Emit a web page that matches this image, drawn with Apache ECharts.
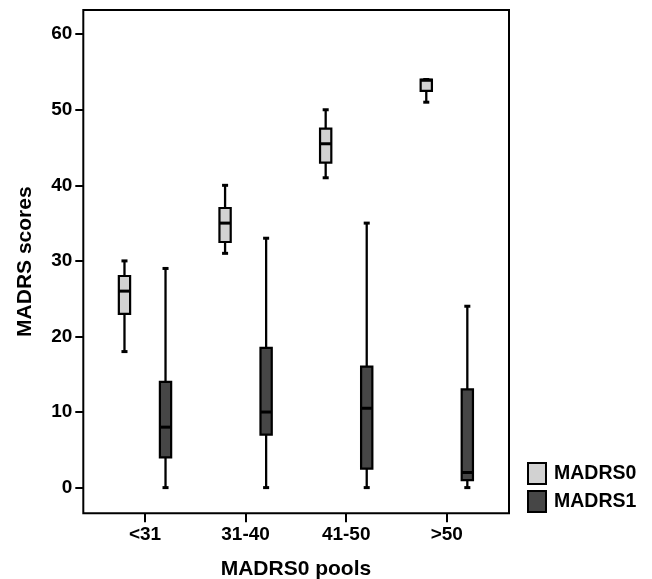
<!DOCTYPE html>
<html>
<head>
<meta charset="utf-8">
<script src="https://cdn.jsdelivr.net/npm/echarts@6/dist/echarts.min.js"></script>
<style>html,body{margin:0;padding:0;background:#fff;}#c{width:652px;height:579px;}</style>
</head>
<body>
<div id="c"></div>
<script>
// Data: [min, Q1, median, Q3, max]
const categories = ['<31', '31-40', '41-50', '>50'];
const madrs0 = [[18, 23, 26, 28, 30], [31, 32.5, 35, 37, 40], [41, 43, 45.5, 47.5, 50], [51, 52.5, 53.9, 54, 54]];
const madrs1 = [[0, 4, 8, 14, 29], [0, 7, 10, 18.5, 33], [0, 2.5, 10.5, 16, 35], [0, 1, 2, 13, 24]];
const yTicks = [0, 10, 20, 30, 40, 50, 60];
const seriesNames = ['MADRS0', 'MADRS1'];
const seriesColors = ['#d2d2d2', '#464646'];

const FONT = '"Liberation Sans", Arial, sans-serif';

function makeRender(sign) {
  return function (params, api) {
    const idx = api.value(0);
    const pMin = api.coord([idx, api.value(1)]);
    const pQ1 = api.coord([idx, api.value(2)]);
    const pMed = api.coord([idx, api.value(3)]);
    const pQ3 = api.coord([idx, api.value(4)]);
    const pMax = api.coord([idx, api.value(5)]);
    const band = api.size([1, 0])[0];
    const cx = pMin[0] + sign * band * 0.204;
    const bw = band * 0.112;
    const capW = band * 0.06;
    const color = api.visual('color');
    const lineStyle = { stroke: '#000', lineWidth: 2.3 };
    return {
      type: 'group',
      children: [
        { type: 'line', shape: { x1: cx, y1: pQ3[1], x2: cx, y2: pMax[1] }, style: lineStyle },
        { type: 'line', shape: { x1: cx, y1: pQ1[1], x2: cx, y2: pMin[1] }, style: lineStyle },
        { type: 'line', shape: { x1: cx - capW / 2, y1: pMax[1], x2: cx + capW / 2, y2: pMax[1] }, style: { stroke: '#000', lineWidth: 3 } },
        { type: 'line', shape: { x1: cx - capW / 2, y1: pMin[1], x2: cx + capW / 2, y2: pMin[1] }, style: { stroke: '#000', lineWidth: 3 } },
        { type: 'rect', shape: { x: cx - bw / 2, y: pQ3[1], width: bw, height: pQ1[1] - pQ3[1] }, style: { fill: color, stroke: '#000', lineWidth: 2.2 } },
        { type: 'line', shape: { x1: cx - bw / 2, y1: pMed[1], x2: cx + bw / 2, y2: pMed[1] }, style: { stroke: '#000', lineWidth: 3 } }
      ]
    };
  };
}

function toData(arr) {
  return arr.map((d, i) => [i].concat(d));
}

const chart = echarts.init(document.getElementById('c'), null, { renderer: 'canvas' });
chart.setOption({
  animation: false,
  backgroundColor: '#fff',
  textStyle: { fontFamily: FONT },
  grid: [
    { left: 94.7, top: 10, width: 402.4, height: 503.3, show: false, containLabel: false, outerBoundsMode: 'none' },
    { left: 83.3, top: 10, width: 425.7, height: 503.3, show: true, borderColor: '#000', borderWidth: 2, backgroundColor: 'transparent', containLabel: false, outerBoundsMode: 'none' }
  ],
  legend: {
    orient: 'vertical',
    left: 527,
    top: 462,
    padding: 0,
    itemWidth: 18,
    itemHeight: 21,
    itemGap: 5,
    icon: 'rect',
    data: seriesNames,
    itemStyle: { borderColor: '#000', borderWidth: 2 },
    textStyle: { fontFamily: FONT, fontSize: 19.5, fontWeight: 'bold', color: '#000', padding: [0, 0, 0, 3] }
  },
  xAxis: {
    gridIndex: 0,
    type: 'category',
    data: categories,
    axisLine: { show: false, onZero: false },
    axisTick: { show: true, alignWithLabel: true, length: 9, lineStyle: { color: '#000', width: 2 } },
    axisLabel: { fontFamily: FONT, fontSize: 19, fontWeight: 'bold', color: '#000', margin: 12 },
    splitLine: { show: false },
    name: 'MADRS0 pools',
    nameLocation: 'middle',
    nameGap: 45,
    nameTextStyle: { fontFamily: FONT, fontSize: 21, fontWeight: 'bold', color: '#000' }
  },
  yAxis: {
    gridIndex: 0,
    type: 'value',
    min: -3.4,
    max: 63.2,
    offset: 11.4,
    axisLine: { show: false },
    axisTick: { show: true, length: 8, customValues: yTicks, lineStyle: { color: '#000', width: 2 } },
    axisLabel: { fontFamily: FONT, fontSize: 19, fontWeight: 'bold', color: '#000', margin: 11, customValues: yTicks },
    splitLine: { show: false },
    name: 'MADRS scores',
    nameLocation: 'middle',
    nameGap: 48,
    nameTextStyle: { fontFamily: FONT, fontSize: 21, fontWeight: 'bold', color: '#000' }
  },
  series: [
    {
      name: seriesNames[0],
      type: 'custom',
      xAxisIndex: 0, yAxisIndex: 0,
      itemStyle: { color: seriesColors[0], borderColor: '#000', borderWidth: 2 },
      encode: { x: 0, y: [1, 2, 3, 4, 5] },
      renderItem: makeRender(-1),
      data: toData(madrs0)
    },
    {
      name: seriesNames[1],
      type: 'custom',
      xAxisIndex: 0, yAxisIndex: 0,
      itemStyle: { color: seriesColors[1], borderColor: '#000', borderWidth: 2 },
      encode: { x: 0, y: [1, 2, 3, 4, 5] },
      renderItem: makeRender(1),
      data: toData(madrs1)
    }
  ]
});
</script>
</body>
</html>
